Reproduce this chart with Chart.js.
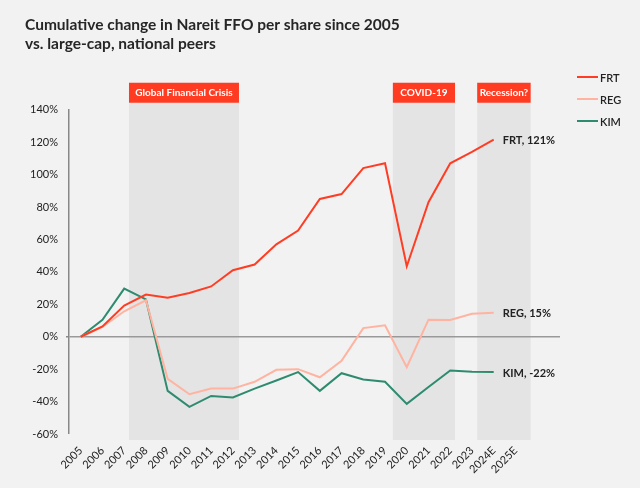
<!DOCTYPE html>
<html>
<head>
<meta charset="utf-8">
<script src="https://cdn.jsdelivr.net/npm/chart.js@4.4.1/dist/chart.umd.min.js"></script>
<style>
  html, body { margin: 0; padding: 0; background: #f2f2f2; }
  #wrap { width: 640px; height: 488px; }
</style>
</head>
<body>
<div id="wrap"><canvas id="chart" width="640" height="488"></canvas></div>
<script>
// data
const years = ['2005', '2006', '2007', '2008', '2009', '2010', '2011', '2012', '2013', '2014',
  '2015', '2016', '2017', '2018', '2019', '2020', '2021', '2022', '2023', '2024E', '2025E'];
const frt = [0, 6.4, 19.2, 26, 24, 27, 31, 41, 44.5, 57, 65.5, 85, 88, 104, 107, 43.5, 83, 107, 114, 121.5];
const reg = [0, 6, 15.7, 22.5, -26, -35.5, -32, -32, -27.8, -20.4, -20, -25, -14.8, 5.3, 7, -18.8, 10.5, 10.3, 14.2, 14.8];
const kim = [0, 10.5, 29.7, 23, -33.4, -43.3, -36.5, -37.5, -32, -27, -21.8, -33.4, -22.5, -26.4, -27.8, -41.4, -31, -20.8, -21.6, -21.8];
const endLabels = ['FRT, 121%', 'REG, 15%', 'KIM, -22%'];

// shaded periods, in x index units
const periods = ['Global Financial Crisis', 'COVID-19', 'Recession?'];
const periodStart = [2.22, 14.36, 18.24];
const periodEnd = [7.28, 17.22, 20.7];

const FONT = 'Lato, "Noto Sans", sans-serif';
const toXY = arr => arr.map((v, i) => ({ x: i, y: v }));

// grey bands + red headers
const bandsPlugin = {
  id: 'bands',
  beforeDraw(chart) {
    const { ctx, chartArea, scales: { x } } = chart;
    ctx.save();
    periods.forEach((name, i) => {
      const x0 = x.getPixelForValue(periodStart[i]);
      const x1 = x.getPixelForValue(periodEnd[i]);
      ctx.fillStyle = '#e4e4e4';
      ctx.fillRect(x0, chartArea.top - 7, x1 - x0, chartArea.bottom - chartArea.top + 13);
      ctx.fillStyle = '#ff3b22';
      ctx.fillRect(x0, chartArea.top - 27, x1 - x0, 20);
      ctx.fillStyle = '#ffffff';
      ctx.font = 'bold 10px ' + FONT;
      ctx.textAlign = 'center';
      ctx.textBaseline = 'middle';
      ctx.fillText(name, (x0 + x1) / 2, chartArea.top - 17);
    });
    ctx.restore();
  }
};

// end-of-line labels and legend
const labelsPlugin = {
  id: 'endLabels',
  afterDatasetsDraw(chart) {
    const { ctx } = chart;
    ctx.save();
    ctx.font = 'bold 11px ' + FONT;
    ctx.fillStyle = '#222';
    ctx.textAlign = 'left';
    ctx.textBaseline = 'middle';
    chart.data.datasets.forEach((ds, i) => {
      const meta = chart.getDatasetMeta(i);
      const last = meta.data[meta.data.length - 1];
      ctx.fillText(endLabels[i], last.x + 9, last.y + 1);
    });
    // legend
    chart.data.datasets.forEach((ds, i) => {
      const y = 77 + i * 22;
      ctx.strokeStyle = ds.borderColor;
      ctx.lineWidth = 2;
      ctx.beginPath();
      ctx.moveTo(577, y);
      ctx.lineTo(598, y);
      ctx.stroke();
      ctx.font = '600 11px ' + FONT;
      ctx.fillStyle = '#222';
      ctx.fillText(ds.label, 600, y + 1);
    });
    ctx.restore();
  }
};

new Chart(document.getElementById('chart'), {
  type: 'line',
  data: {
    datasets: [
      { label: 'FRT', data: toXY(frt), borderColor: '#ff3d24', borderWidth: 2 },
      { label: 'REG', data: toXY(reg), borderColor: '#ffb3a0', borderWidth: 2 },
      { label: 'KIM', data: toXY(kim), borderColor: '#2e8b6f', borderWidth: 2 }
    ]
  },
  options: {
    responsive: false,
    animation: false,
    layout: { padding: { left: 25, right: 80, top: 0, bottom: 0 } },
    elements: { point: { radius: 0 }, line: { tension: 0 } },
    plugins: {
      legend: { display: false },
      tooltip: { enabled: false },
      title: {
        display: true,
        text: ['Cumulative change in Nareit FFO per share since 2005', 'vs. large-cap, national peers'],
        align: 'start',
        color: '#262626',
        font: { family: FONT, size: 15.5, weight: 'bold', lineHeight: 1.25 },
        padding: { top: 15, bottom: 56 }
      }
    },
    scales: {
      x: {
        type: 'linear',
        min: -0.54,
        max: 22.05,
        afterBuildTicks: s => { s.ticks = years.map((_, i) => ({ value: i })); },
        afterFit: s => { s.height = 54; },
        grid: { display: false },
        border: { display: false },
        ticks: {
          autoSkip: false,
          maxRotation: 45,
          minRotation: 45,
          padding: 2,
          color: '#222',
          font: { family: FONT, size: 11 },
          callback: v => years[v]
        }
      },
      y: {
        min: -60,
        max: 140,
        afterFit: s => { s.width = 44; },
        ticks: {
          stepSize: 20,
          padding: 8,
          color: '#222',
          font: { family: FONT, size: 11 },
          callback: v => v + '%'
        },
        grid: {
          drawTicks: true,
          tickLength: 3,
          tickColor: '#888',
          color: c => (c.tick && c.tick.value === 0) ? '#999' : 'rgba(0,0,0,0)',
          lineWidth: c => (c.tick && c.tick.value === 0) ? 1.5 : 0
        },
        border: { color: '#888', width: 1.5 }
      }
    }
  },
  plugins: [bandsPlugin, labelsPlugin]
});
</script>
</body>
</html>
